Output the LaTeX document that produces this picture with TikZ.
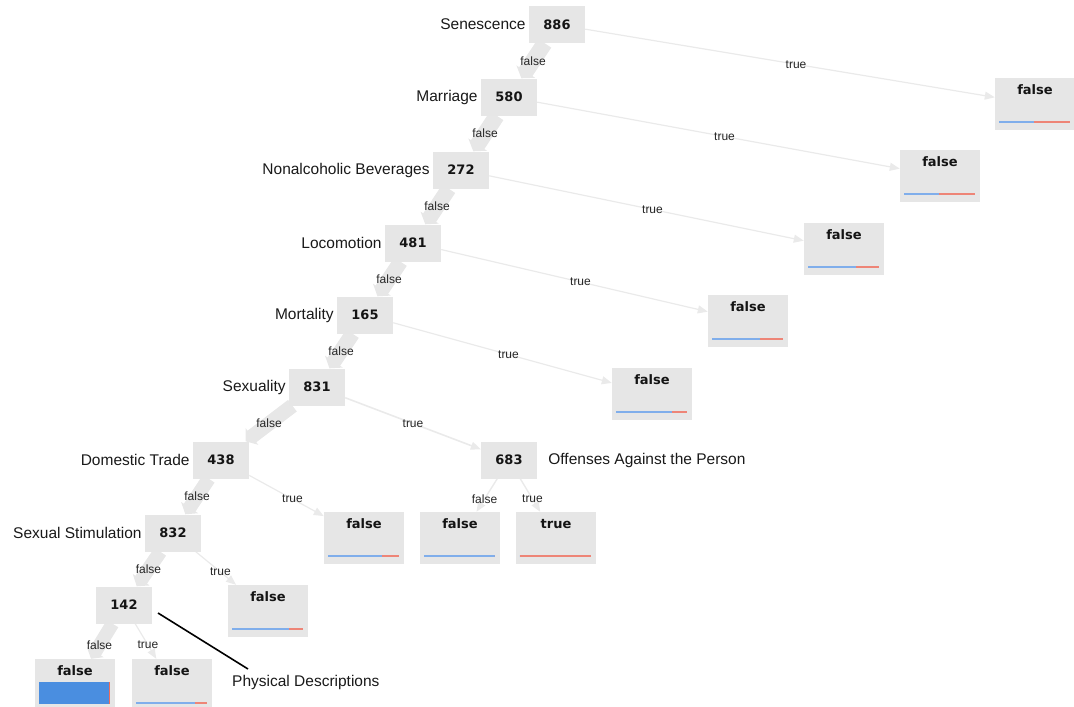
\documentclass[tikz,border=0pt]{standalone}
\usepackage{fontspec}
\setmainfont{Liberation Sans}
\newfontfamily\numfont{DejaVu Sans}
\usetikzlibrary{arrows.meta,calc}

\definecolor{nodegray}{HTML}{E6E6E6}
\definecolor{bandgray}{HTML}{E7E7E7}
\definecolor{linegray}{HTML}{EAEAEA}
\definecolor{classblue}{HTML}{4A8EE0}
\definecolor{classred}{HTML}{EE6C5C}
\definecolor{thinblue}{HTML}{80AEEB}
\definecolor{thinred}{HTML}{EE8577}

\pgfdeclarelayer{bg}
\pgfsetlayers{bg,main}

% class distribution bar at the foot of a leaf: node, share of "false", bar height, colours
\newcommand\classbar[5]{%
  \fill[#4] ($(#1.south west)+(4,-7)$) rectangle ++({71*#2},-#3);
  \fill[#5] ($(#1.south west)+({4+71*#2},-7)$) rectangle ++({71*(1-#2)},-#3);
}

\begin{document}
\begin{tikzpicture}[x=1pt,y=-1pt,
  split/.style={fill=nodegray, minimum width=56pt, minimum height=37pt, inner sep=0pt,
    font=\numfont\bfseries\fontsize{13}{15}\selectfont, text=black!92},
  leaf/.style={fill=nodegray, minimum width=80pt, minimum height=52pt, inner sep=0pt},
  leaftext/.style={font=\numfont\bfseries\fontsize{13}{15}\selectfont, text=black!92, inner sep=0pt},
  featl/.style={font=\fontsize{15.5}{18}\selectfont, text=black!90, inner sep=0pt, anchor=east, xshift=-3pt},
  featr/.style={font=\fontsize{15.5}{18}\selectfont, text=black!90, inner sep=0pt, anchor=west, xshift=11pt},
  elabel/.style={font=\fontsize{12}{14}\selectfont, text=black!85, inner sep=0pt},
  fedge/.style 2 args={draw=bandgray, line width=#1, -{Triangle[length=8pt,width=#2]}},
  tedge/.style={draw=linegray, line width=#1, -{Triangle[length=10pt,width=8pt]}},
  pointer/.style={draw=black, line width=1.6pt},
]
\useasboundingbox (0,0) rectangle (1074,707);

% split nodes
\node[split] (n886) at (557,24.5) {886};
\node[split] (n580) at (509,97) {580};
\node[split] (n272) at (461,170) {272};
\node[split] (n481) at (413,243) {481};
\node[split] (n165) at (365,315) {165};
\node[split] (n831) at (317,387) {831};
\node[split] (n438) at (221,460) {438};
\node[split] (n683) at (509,460) {683};
\node[split] (n832) at (173,533) {832};
\node[split] (n142) at (124,605) {142};

% feature names
\node[featl] (f886) at (n886.west) {Senescence};
\node[featl] (f580) at (n580.west) {Marriage};
\node[featl] (f272) at (n272.west) {Nonalcoholic Beverages};
\node[featl] (f481) at (n481.west) {Locomotion};
\node[featl] (f165) at (n165.west) {Mortality};
\node[featl] (f831) at (n831.west) {Sexuality};
\node[featl] (f438) at (n438.west) {Domestic Trade};
\node[featl] (f832) at (n832.west) {Sexual Stimulation};
\node[featr] (f683) at (n683.east) {Offenses Against the Person};

% leaves
\node[leaf] (l886) at (1035,104) {};
\node[leaf] (l580) at (940,176) {};
\node[leaf] (l272) at (844,249) {};
\node[leaf] (l481) at (748,321) {};
\node[leaf] (l165) at (652,394) {};
\node[leaf] (l438) at (364,538) {};
\node[leaf] (l683f) at (460,538) {};
\node[leaf] (l683t) at (556,538) {};
\node[leaf] (l832) at (268,611) {};
\node[leaf] (l142f) at (75,685) {};
\node[leaf] (l142t) at (172,685) {};

\foreach \lf/\txt in {l886/false,l580/false,l272/false,l481/false,l165/false,
                      l438/false,l683f/false,l683t/true,l832/false,l142f/false,l142t/false}
  \node[leaftext] (\lf-text) at ($(\lf.north)+(0,12)$) {\txt};

% class bars
\classbar{l886}{0.50}{2}{thinblue}{thinred}
\classbar{l580}{0.50}{2}{thinblue}{thinred}
\classbar{l272}{0.68}{2}{thinblue}{thinred}
\classbar{l481}{0.68}{2}{thinblue}{thinred}
\classbar{l165}{0.79}{2}{thinblue}{thinred}
\classbar{l438}{0.76}{2}{thinblue}{thinred}
\classbar{l683f}{1}{2}{thinblue}{thinred}
\classbar{l683t}{0}{2}{thinblue}{thinred}
\classbar{l832}{0.80}{2}{thinblue}{thinred}
\classbar{l142f}{0.985}{22}{classblue}{classred}
\classbar{l142t}{0.84}{2}{thinblue}{thinred}

% edges, behind the boxes
\begin{pgfonlayer}{bg}
  \draw[fedge={16pt}{22pt}] (n886) -- (n580);
  \draw[fedge={16pt}{22pt}] (n580) -- (n272);
  \draw[fedge={15.5pt}{21.5pt}] (n272) -- (n481);
  \draw[fedge={15pt}{21pt}] (n481) -- (n165);
  \draw[fedge={15pt}{21pt}] (n165) -- (n831);
  \draw[fedge={14.5pt}{20.5pt}] (n831) -- (n438);
  \draw[fedge={14pt}{20pt}] (n438) -- (n832);
  \draw[fedge={14pt}{20pt}] (n832) -- (n142);
  \draw[fedge={13.5pt}{19.5pt}] (n142) -- (l142f);

  \draw[tedge=1.2pt] (n886) -- (l886);
  \draw[tedge=1.2pt] (n580) -- (l580);
  \draw[tedge=1.2pt] (n272) -- (l272);
  \draw[tedge=1.2pt] (n481) -- (l481);
  \draw[tedge=1.2pt] (n165) -- (l165);
  \draw[tedge=1.6pt] (n831) -- (n683);
  \draw[tedge=1.2pt] (n438) -- (l438);
  \draw[tedge=1.2pt] (n832) -- (l832);
  \draw[tedge=1.4pt] (n683) -- (l683f);
  \draw[tedge=1.4pt] (n683) -- (l683t);
  \draw[tedge=1.2pt] (n142) -- (l142t);
\end{pgfonlayer}

% edge labels
\foreach \a/\b/\t in {n886/n580/false, n580/n272/false, n272/n481/false, n481/n165/false,
                      n165/n831/false, n831/n438/false, n438/n832/false, n832/n142/false,
                      n142/l142f/false, n886/l886/true, n580/l580/true, n272/l272/true,
                      n481/l481/true, n165/l165/true, n831/n683/true, n438/l438/true,
                      n832/l832/true, n683/l683f/false, n683/l683t/true, n142/l142t/true}
  \path (\a.center) -- (\b.center) node[elabel, pos=0.5] {\t};

% pointer to the last feature name
\node[font=\fontsize{15.5}{18}\selectfont, text=black!90, inner sep=0pt, anchor=west] (phys) at (232,682) {Physical Descriptions};
\coordinate (ptr-a) at (158,613);
\coordinate (ptr-b) at (248,669);
\draw[pointer] (ptr-a) -- (ptr-b);
\end{tikzpicture}
\end{document}
